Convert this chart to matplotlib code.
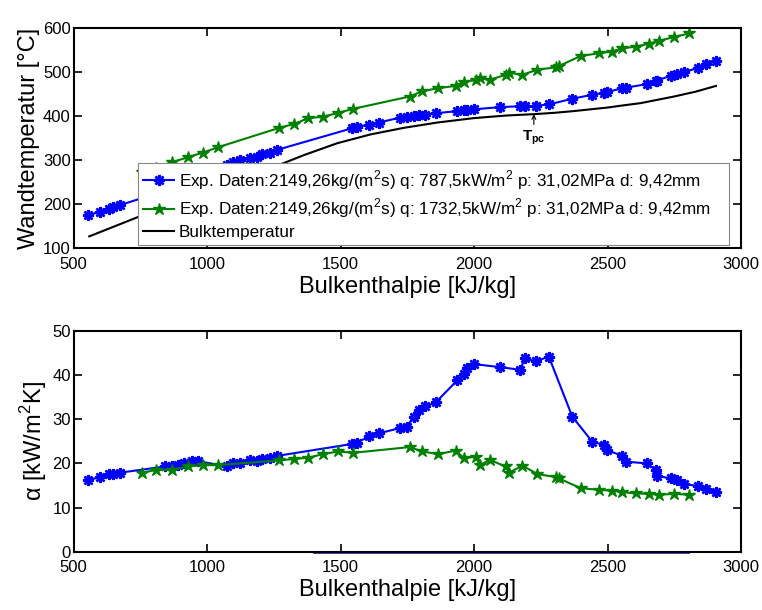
import matplotlib
matplotlib.use("Agg")
import matplotlib.pyplot as plt

plt.rcParams['font.family'] = ['Liberation Sans', 'DejaVu Sans']
plt.rcParams['mathtext.fontset'] = 'custom'
plt.rcParams['mathtext.rm'] = 'Liberation Sans'
plt.rcParams['mathtext.bf'] = 'Liberation Sans:bold'

# Exp. 787,5 kW/m2
blue_h = [556, 599, 634, 649, 674, 843, 868, 893, 912, 943, 968, 1074, 1099, 1124, 1162,
          1187, 1206, 1237, 1262, 1543, 1562, 1606, 1643, 1722, 1749, 1774, 1793, 1818,
          1856, 1937, 1962, 1972, 2000, 2099, 2174, 2189, 2231, 2280, 2368, 2443, 2487,
          2499, 2556, 2568, 2647, 2681, 2684, 2737, 2762, 2787, 2837, 2868, 2906]
blue_T = [175, 183, 190, 194, 198, 230, 236, 241, 245, 252, 258, 288, 295, 300, 304,
          308, 314, 317, 323, 372, 376, 380, 385, 396, 398, 400, 401, 403,
          406, 411, 414, 414, 415, 420, 422, 422, 423, 426, 439, 448, 453,
          454, 463, 464, 472, 479, 480, 491, 495, 500, 508, 517, 525]
blue_alpha = [16.2, 16.9, 17.5, 17.6, 17.9, 19.3, 19.4, 19.6, 20.2, 20.6, 20.5, 19.3, 20.0, 20.0, 20.8,
              20.6, 20.9, 21.3, 21.7, 24.4, 24.7, 26.1, 26.8, 28.0, 28.3, 30.6, 32.0, 33.0,
              33.8, 38.8, 40.3, 41.6, 42.5, 41.8, 41.2, 43.8, 43.1, 44.2, 30.6, 24.9, 24.2,
              23.0, 21.7, 20.4, 20.0, 18.5, 17.2, 16.6, 16.2, 15.3, 14.9, 14.2, 13.5]

# Exp. 1732,5 kW/m2
green_h = [756, 809, 868, 927, 985, 1041, 1271, 1327, 1380, 1434, 1491, 1547, 1759, 1806,
           1866, 1931, 1962, 2006, 2022, 2059, 2118, 2131, 2181, 2237, 2306, 2318, 2399,
           2468, 2518, 2553, 2606, 2656, 2693, 2749, 2806]
green_T = [272, 283, 295, 306, 317, 329, 373, 382, 395, 398, 407, 416, 444, 456,
           463, 468, 478, 481, 485, 482, 493, 498, 493, 505, 510, 513, 536,
           542, 546, 553, 557, 564, 570, 579, 587]
green_alpha = [17.9, 18.5, 18.5, 19.3, 19.6, 19.6, 20.7, 21.0, 21.3, 22.1, 22.7, 22.4, 23.7, 22.7,
               22.1, 22.9, 21.2, 21.5, 19.6, 20.8, 19.3, 17.9, 19.5, 17.6, 16.9, 16.6, 14.4,
               14.0, 13.8, 13.5, 13.2, 13.1, 12.9, 13.1, 12.9]

# Bulktemperatur
bulk_h = [559, 738, 1287, 1362, 1487, 1612, 1737, 1800, 1862, 1999, 2060, 2124, 2224, 2300,
          2374, 2500, 2560, 2624, 2749, 2830, 2906]
bulk_T = [127, 170, 293, 311, 338, 358, 373, 379, 385, 395, 398, 401, 404, 407,
          411, 419, 424, 429, 444, 455, 468]

# flat line at zero in the lower plot
zero_h = [1400, 2800]
zero_a = [0, 0]

h_pc = 2224
T_pc = 404

lbl1 = 'Exp. Daten:2149,26kg/(m$^2$s) q: 787,5kW/m$^2$ p: 31,02MPa d: 9,42mm'
lbl2 = 'Exp. Daten:2149,26kg/(m$^2$s) q: 1732,5kW/m$^2$ p: 31,02MPa d: 9,42mm'

blue = (0, 0, 1)
green = (0, 0.5, 0)
ast = (8, 2, 0)

fig = plt.figure(figsize=(7.62, 6.10), dpi=100)
ax1 = fig.add_axes([0.0965, 0.593, 0.876, 0.3616])
ax2 = fig.add_axes([0.0965, 0.0956, 0.876, 0.3618])

ax1.plot(blue_h, blue_T, color=blue, lw=1.5, marker=ast, ms=8, mew=1.8, label=lbl1)
ax1.plot(green_h, green_T, color=green, lw=1.5, marker='*', ms=9, label=lbl2)
ax1.plot(bulk_h, bulk_T, color='k', lw=1.5, label='Bulktemperatur')
ax1.annotate(r'$\mathbf{T}_{\mathbf{pc}}$', xy=(h_pc, T_pc), xytext=(h_pc, 350),
             ha='center', va='center', fontsize=11,
             arrowprops=dict(arrowstyle='->', color='k', lw=0.8, shrinkA=1, shrinkB=0,
                             mutation_scale=7))

ax1.set_xlim(500, 3000)
ax1.set_ylim(100, 600)
ax1.set_xticks([500, 1000, 1500, 2000, 2500, 3000])
ax1.set_yticks([100, 200, 300, 400, 500, 600])
ax1.set_xlabel('Bulkenthalpie [kJ/kg]', fontsize=17, labelpad=3)
ax1.set_ylabel('Wandtemperatur [°C]', fontsize=17, labelpad=2)
leg = ax1.legend(loc='upper left',
                 bbox_to_anchor=(138 / 762, 1 - 242 / 610, (729 - 138) / 762, 79 / 610),
                 bbox_transform=fig.transFigure, mode='expand',
                 fontsize=12.3, frameon=True, fancybox=False, edgecolor='#888888',
                 framealpha=1, borderpad=0.3, labelspacing=0.28, handlelength=1.8,
                 handletextpad=0.3, borderaxespad=0)
leg.get_frame().set_linewidth(0.8)

ax2.plot(blue_h, blue_alpha, color=blue, lw=1.5, marker=ast, ms=8, mew=1.8)
ax2.plot(green_h, green_alpha, color=green, lw=1.5, marker='*', ms=9)
ax2.plot(zero_h, zero_a, color='#2a2aa0', lw=2, clip_on=False)
ax2.set_xlim(500, 3000)
ax2.set_ylim(0, 50)
ax2.set_xticks([500, 1000, 1500, 2000, 2500, 3000])
ax2.set_yticks([0, 10, 20, 30, 40, 50])
ax2.set_xlabel('Bulkenthalpie [kJ/kg]', fontsize=17, labelpad=3)
ax2.set_ylabel('α [kW/m$^2$K]', fontsize=17, labelpad=2)

for ax in (ax1, ax2):
    ax.tick_params(direction='in', length=6, width=1.2, top=True, right=True,
                   labelsize=12, pad=2)
    ax.tick_params(axis='x', pad=6)
    for s in ax.spines.values():
        s.set_linewidth(1.5)

fig.savefig('out.png', dpi=100)
